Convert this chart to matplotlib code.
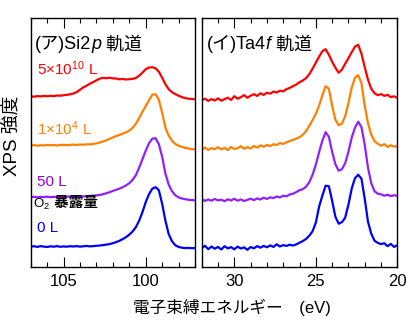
import numpy as np
import matplotlib
matplotlib.use("Agg")
import matplotlib.pyplot as plt
from matplotlib.offsetbox import TextArea, HPacker, AnchoredOffsetbox

plt.rcParams["font.family"] = ["Liberation Sans", "Noto Sans CJK JP"]
plt.rcParams["mathtext.fontset"] = "custom"
plt.rcParams["mathtext.rm"] = "Liberation Sans"
plt.rcParams["mathtext.it"] = "Liberation Sans:italic"

# binding energy grids (eV), high to low
si_energy = np.linspace(107.0, 97.0, 51)
ta_energy = np.linspace(32.0, 20.0, 61)

# Si 2p spectra (arb. units) for each O2 exposure
si_0L = [20.0, 20.5, 19.8, 20.6, 20.1, 19.7, 20.4, 20.0, 20.6, 19.9,
         20.3, 20.0, 20.5, 20.2, 20.6, 20.1, 20.4, 20.8, 20.3, 20.6,
         20.9, 21.2, 21.6, 22.1, 22.6, 23.5, 24.6, 25.9, 27.6, 29.6,
         32.0, 35.2, 39.5, 46.0, 54.5, 64.5, 72.5, 78.0, 79.5, 76.5,
         63.0, 46.0, 32.5, 25.5, 21.5, 19.8, 19.0, 18.6, 18.8, 18.5,
         18.7]
si_50L = [19.5, 19.9, 19.4, 19.8, 19.6, 20.0, 19.5, 19.9, 19.6, 20.1,
          19.7, 20.0, 20.3, 19.9, 20.2, 20.5, 20.3, 20.6, 20.8, 21.0,
          21.3, 21.8, 22.5, 23.4, 24.5, 25.8, 26.9, 28.1, 29.5, 31.3,
          33.5, 36.8, 41.5, 49.0, 57.5, 66.0, 73.5, 78.0, 78.5, 72.5,
          60.0, 43.0, 32.0, 25.5, 21.5, 19.3, 18.2, 17.5, 17.0, 16.6,
          16.4]
si_1e4L = [21.2, 21.6, 21.0, 21.5, 21.3, 21.8, 21.4, 21.7, 21.2, 21.6,
           21.9, 21.5, 21.8, 22.1, 21.8, 22.2, 22.0, 22.4, 22.3, 22.8,
           23.3, 24.2, 25.2, 26.4, 27.8, 29.3, 30.6, 31.8, 33.0, 34.4,
           36.0, 38.8, 43.0, 48.5, 55.0, 60.5, 66.5, 72.0, 72.5, 67.0,
           54.0, 39.0, 31.0, 26.0, 22.8, 21.0, 19.8, 18.9, 18.2, 17.6,
           17.2]
si_5e10L = [20.4, 20.0, 20.6, 20.3, 20.8, 20.5, 20.9, 20.6, 21.2, 21.0,
            21.5, 21.9, 22.4, 23.2, 24.6, 27.0, 29.3, 31.0, 33.0, 34.6,
            36.4, 38.0, 38.9, 38.5, 39.0, 38.3, 38.2, 37.4, 37.8, 37.2,
            37.5, 37.9, 38.7, 41.0, 44.0, 47.5, 49.2, 49.5, 48.4, 45.0,
            39.0, 32.5, 27.5, 24.5, 22.6, 21.0, 19.6, 18.6, 18.0, 17.8,
            17.5]

# Ta 4f spectra (arb. units)
ta_0L = [18.5, 21.0, 17.5, 20.2, 18.0, 19.8, 17.2, 20.5, 18.3, 19.6,
         17.4, 20.1, 18.2, 19.3, 16.9, 19.7, 18.4, 20.6, 19.0, 20.8,
         19.4, 21.3, 19.8, 22.4, 20.2, 21.6, 20.8, 22.0, 21.2, 22.3,
         24.0, 25.6, 27.8, 31.0, 35.5, 44.0, 60.0, 71.0, 81.0, 80.5,
         66.0, 50.0, 43.0, 44.5, 49.0, 62.0, 78.0, 88.5, 92.0, 88.0,
         68.0, 45.0, 33.0, 26.0, 23.8, 22.6, 23.5, 20.5, 22.8, 19.8,
         21.5]
ta_50L = [17.5, 15.8, 17.2, 16.0, 17.8, 16.3, 17.0, 15.5, 17.4, 16.2,
          17.9, 16.0, 17.3, 15.7, 16.8, 18.0, 16.6, 18.3, 17.2, 19.0,
          17.8, 19.4, 18.6, 20.2, 19.3, 21.0, 20.4, 22.2, 23.0, 24.6,
          26.5, 27.5, 30.0, 34.5, 42.0, 52.0, 64.5, 76.0, 84.5, 80.0,
          65.0, 52.5, 46.0, 47.5, 53.5, 65.0, 79.0, 89.0, 95.0, 89.5,
          72.0, 49.0, 33.5, 25.5, 23.0, 22.4, 21.0, 22.0, 20.6, 21.4,
          21.0]
ta_1e4L = [17.0, 19.2, 16.8, 18.5, 17.6, 19.5, 17.3, 18.9, 16.6, 19.8,
           17.7, 18.4, 20.5, 17.9, 19.6, 18.2, 20.7, 19.1, 21.4, 20.0,
           21.8, 20.6, 22.5, 21.7, 23.6, 22.8, 24.4, 25.6, 26.8, 28.0,
           29.5, 32.0, 35.5, 41.0, 46.5, 53.0, 61.0, 71.5, 80.5, 78.0,
           61.0, 47.0, 41.5, 43.0, 50.5, 63.5, 79.0, 89.0, 91.5, 83.5,
           61.0, 43.5, 32.0, 25.5, 23.0, 21.0, 22.6, 19.8, 21.5, 20.0,
           20.8]
ta_5e10L = [16.5, 18.0, 15.8, 17.6, 16.2, 18.4, 16.0, 17.5, 19.0, 16.8,
            20.5, 18.0, 19.5, 21.6, 19.0, 21.0, 22.5, 20.8, 23.4, 21.8,
            24.0, 23.0, 25.2, 24.2, 26.0, 25.4, 27.6, 28.8, 30.5, 32.2,
            34.5, 36.2, 38.6, 42.5, 48.0, 54.0, 60.0, 65.5, 67.5, 62.0,
            55.0, 49.0, 44.0, 47.0, 53.0, 58.5, 64.5, 70.0, 72.0, 63.0,
            49.5, 37.0, 28.0, 23.5, 21.5, 22.6, 20.8, 21.9, 19.6, 20.4,
            18.8]

dose_labels = ["0 L", "50 L", "1×10$^{\\mathrm{4}}$ L", "5×10$^{\\mathrm{10}}$ L"]
offsets = [0, 50, 100, 150]
line_colors = ["#0000ff", "#9020ff", "#ff8000", "#ff0000"]
text_colors = ["#0000ff", "#9900cc", "#ff8000", "#ff0000"]
label_y = [0.141, 0.325, 0.529, 0.7705]

si_series = [si_0L, si_50L, si_1e4L, si_5e10L]
ta_series = [ta_0L, ta_50L, ta_1e4L, ta_5e10L]


def rich_text(ax, x, y, parts, **kw):
    # parts: list of (string, textprops) packed on a shared baseline
    boxes = [TextArea(s, textprops=p) for s, p in parts]
    pack = HPacker(children=boxes, align="baseline", pad=0, sep=0)
    anch = AnchoredOffsetbox(loc="lower left", child=pack, pad=0, borderpad=0,
                             frameon=False, bbox_to_anchor=(x, y),
                             bbox_transform=ax.transAxes)
    ax.add_artist(anch)


fig = plt.figure(figsize=(4.1, 3.3), dpi=100)
ax1 = fig.add_axes([0.0749, 0.1918, 0.4007, 0.7527])
ax2 = fig.add_axes([0.4920, 0.1918, 0.4771, 0.7527])

for data, ax in [(si_series, ax1), (ta_series, ax2)]:
    energy = si_energy if ax is ax1 else ta_energy
    for vals, off, c in zip(data, offsets, line_colors):
        ax.plot(energy, np.array(vals) + off, color=c, lw=1.6)
    ax.set_ylim(0, 248.4)
    ax.set_yticks([])
    ax.tick_params(axis="x", which="both", direction="in", top=True,
                   labelsize=12, width=0.8, pad=5)
    ax.tick_params(axis="x", which="major", length=7)
    ax.tick_params(axis="x", which="minor", length=3.5)
    for s in ax.spines.values():
        s.set_linewidth(1.0)

ax1.set_xlim(107, 97)
ax1.set_xticks([105, 100])
ax1.set_xticks(np.arange(97, 108), minor=True)
ax2.set_xlim(32, 20)
ax2.set_xticks([30, 25, 20])
ax2.set_xticks(np.arange(20, 33), minor=True)

# exposure labels on the Si panel
for lab, c, y in zip(dose_labels, text_colors, label_y):
    ax1.text(0.0365, y, lab, color=c, fontsize=11, va="baseline",
             transform=ax1.transAxes)
rich_text(ax1, 0.015, 0.222, [("O$_{\\mathrm{2}}$", dict(fontsize=9.5)),
                              (" 暴露量", dict(fontsize=10.5, weight="bold"))])

# panel titles with italic orbital letter
rich_text(ax1, 0.026, 0.859, [("(ア)Si2", dict(fontsize=13)),
                              ("p", dict(fontsize=13, style="italic")),
                              (" 軌道", dict(fontsize=13))])
rich_text(ax2, 0.0256, 0.859, [("(イ)Ta4", dict(fontsize=13)),
                               ("f", dict(fontsize=13, style="italic")),
                               (" 軌道", dict(fontsize=13))])

fig.text(0.566, 0.0697, "電子束縛エネルギー\u3000(eV)", fontsize=12,
         ha="center", va="center")
fig.text(0.029, 0.589, "XPS 強度", fontsize=13.5, rotation=90,
         ha="center", va="center")

fig.savefig("out.png", dpi=100, facecolor="white")
